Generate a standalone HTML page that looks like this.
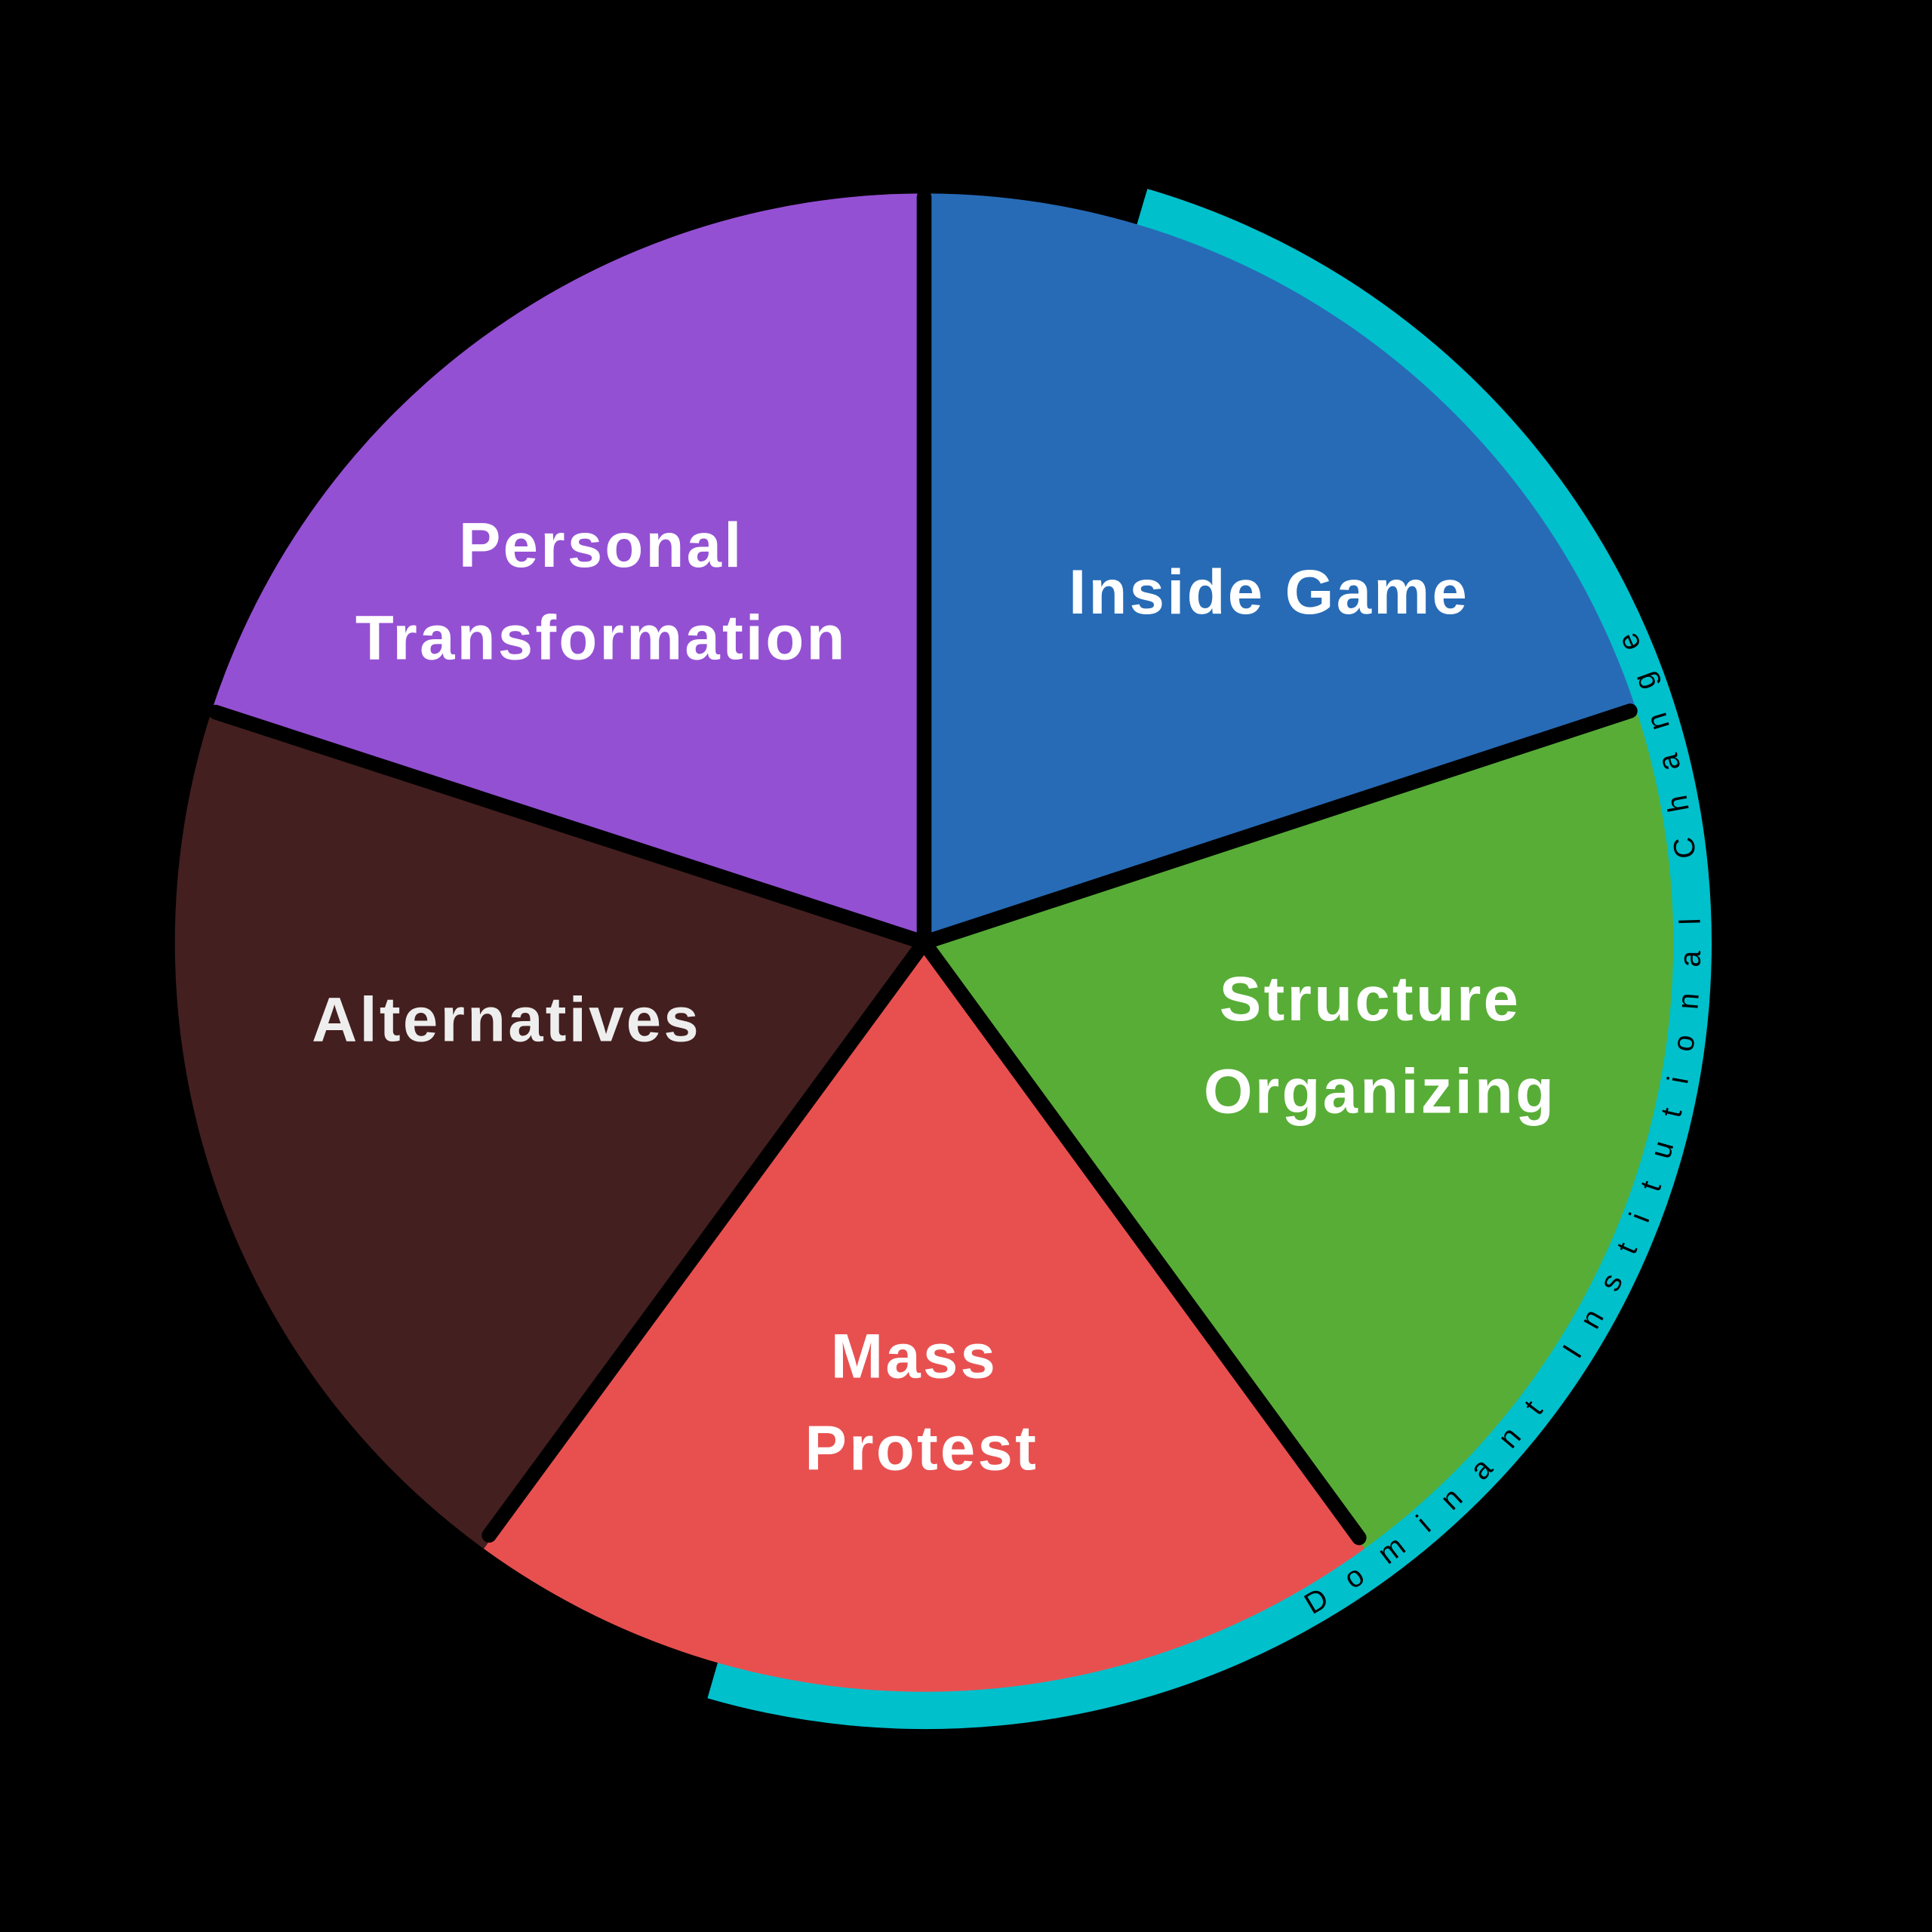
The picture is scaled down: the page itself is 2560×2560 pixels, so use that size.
<!DOCTYPE html>
<html><head><meta charset="utf-8"><style>
html,body{margin:0;padding:0;background:#000;}
svg{display:block;}
</style></head><body>
<svg width="2560" height="2560" viewBox="0 0 1568 1568" xmlns="http://www.w3.org/2000/svg">
<rect width="1568" height="1568" fill="#000"/>
<path d="M926.7,168.6 A622,622 0 0 1 578.6,1362.9" fill="none" stroke="#00C0CC" stroke-width="32"/>
<g>
<path d="M750,765 L750,157 A608,608 0 0 1 1328.3,577.1 Z" fill="#276BB6"/>
<path d="M750,765 L1328.3,577.1 A608,608 0 0 1 1107.4,1256.9 Z" fill="#58AD37"/>
<path d="M750,765 L1107.4,1256.9 A608,608 0 0 1 392.6,1256.9 Z" fill="#E85050"/>
<path d="M750,765 L392.6,1256.9 A608,608 0 0 1 171.7,577.1 Z" fill="#441F1F"/>
<path d="M750,765 L171.7,577.1 A608,608 0 0 1 750,157 Z" fill="#9450D3"/>
</g>
<g stroke="#000" stroke-width="12" stroke-linecap="round">
<line x1="750" y1="765" x2="750" y2="160"/>
<line x1="750" y1="765" x2="1323" y2="577"/>
<line x1="750" y1="765" x2="1103" y2="1248"/>
<line x1="750" y1="765" x2="397" y2="1246"/>
<line x1="750" y1="765" x2="175" y2="578"/>
</g>
<g font-family="'Liberation Sans',sans-serif" font-weight="bold" font-size="51" fill="#fff" text-anchor="middle" letter-spacing="2">
<text x="1030" y="498">Inside Game</text>
<text x="488" y="460">Personal</text>
<text x="488" y="535">Transformation</text>
<text x="411" y="845" fill="#eee">Alternatives</text>
<text x="1112" y="828">Structure</text>
<text x="1120" y="903">Organizing</text>
<text x="742" y="1118">Mass</text>
<text x="748" y="1193">Protest</text>
</g>
<defs><path id="ta" d="M1065,1310.6 A630,630 0 0 0 1295.6,450"/></defs>
<text font-family="'Liberation Sans',sans-serif" font-size="24" fill="#000"><textPath href="#ta" textLength="920" lengthAdjust="spacing">Dominant Institutional Change</textPath></text>
</svg>
</body></html>
